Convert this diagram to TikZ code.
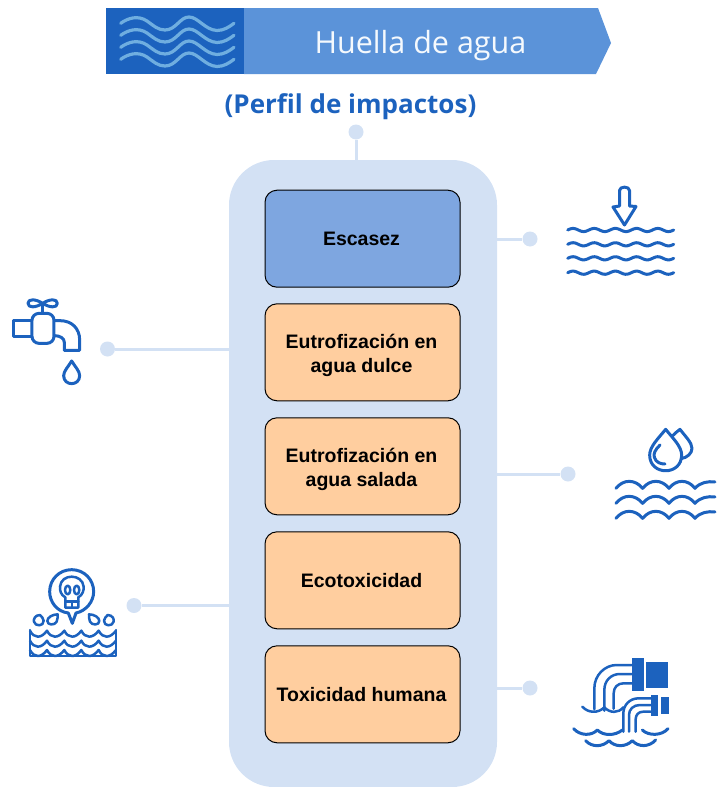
\documentclass[tikz,border=0pt]{standalone}
\usepackage{fontspec}
\setmainfont{Open Sans}
\newfontfamily\boxfont{Liberation Sans}[BoldFont={Liberation Sans Bold}]
\definecolor{dblue}{HTML}{1C62BE}
\definecolor{lblue}{HTML}{5B93D9}
\definecolor{wblue}{HTML}{6FAEE0}
\definecolor{panel}{HTML}{D3E1F4}
\definecolor{bluebox}{HTML}{7EA6E0}
\definecolor{orangebox}{HTML}{FFCE9F}
\tikzset{
  ico/.style={draw=dblue,line width=3pt,line cap=round,line join=round},
  icothin/.style={draw=dblue,line width=2.5pt,line cap=round,line join=round},
  impact/.style={draw=black,line width=1pt,rounded corners=12pt,minimum width=195pt,minimum height=97pt,inner sep=0pt,align=center,font=\boxfont\bfseries\fontsize{19.5}{24}\selectfont},
  dotnode/.style={circle,fill=panel,minimum size=15pt,inner sep=0pt},
  link/.style={draw=panel,line width=3pt}
}
\begin{document}
\begin{tikzpicture}[x=1pt,y=-1pt]
\useasboundingbox (0,0) rectangle (716,787);
% header
\fill[lblue] (244,8) -- (598,8) -- (611,43) -- (596,74) -- (244,74) -- cycle;
\fill[dblue] (106,8) rectangle (244,74);
\foreach \d in {0,12,24,36}{
  \draw[wblue,line width=3.2pt,line cap=round] (120.7,23.3+\d)
    .. controls (128,18+\d) and (138,15+\d) .. (147,21+\d)
    .. controls (154,26+\d) and (158,30+\d) .. (165,30+\d)
    .. controls (176,30+\d) and (180,17+\d) .. (189,17+\d)
    .. controls (198,17+\d) and (205,30+\d) .. (217,30.5+\d)
    .. controls (224,30.5+\d) and (229,27+\d) .. (234,23.3+\d);
}
\node[text=white!94!lblue,font=\fontsize{30.5}{34}\selectfont,anchor=center] (title) at (420.5,46) {Huella de agua};
\node[text=dblue,font=\bfseries\fontsize{26}{30}\selectfont,anchor=center] (subtitle) at (350.5,107) {(Perfil de impactos)};
% panel
\node[fill=panel,rounded corners=45pt,minimum width=268pt,minimum height=627pt,inner sep=0pt] (pan) at (363,473.5) {};
% boxes
\node[impact,fill=bluebox] (b1) at (362.5,238.7) {\hspace*{-2pt}Escasez};
\node[impact,fill=orangebox] (b2) at (362.5,352.3) {\raisebox{-8pt}[0pt][0pt]{\parbox{188pt}{\centering Eutrofización en\\agua dulce}}\hspace*{2pt}};
\node[impact,fill=orangebox] (b3) at (362.5,466.3) {\raisebox{-8pt}[0pt][0pt]{\parbox{188pt}{\centering Eutrofización en\\agua salada}}\hspace*{2pt}};
\node[impact,fill=orangebox] (b4) at (362.5,580.3) {\hspace*{-2pt}Ecotoxicidad};
\node[impact,fill=orangebox] (b5) at (362.5,694.3) {\hspace*{-2pt}Toxicidad humana};
% connector dots
\node[dotnode] (dt) at (356,132) {};
\node[dotnode] (d1) at (530,239) {};
\node[dotnode] (d2) at (107.5,349) {};
\node[dotnode] (d3) at (568,474) {};
\node[dotnode] (d4) at (134,605.5) {};
\node[dotnode] (d5) at (530,688) {};
\draw[link] (dt) -- (dt |- pan.north);
\draw[link] (d1) -- (pan.east |- d1);
\draw[link] (d2) -- (pan.west |- d2);
\draw[link] (d3) -- (pan.east |- d3);
\draw[link] (d4) -- (pan.west |- d4);
\draw[link] (d5) -- (pan.east |- d5);
% tap icon
\begin{scope}[shift={(0,285)},x=0.3333pt,y=-0.3333pt]
  \draw[ico] (95,105) -- (40,105) -- (40,155) -- (95,155);
  \draw[ico,rounded corners=7pt] (96,85) rectangle (162,175);
  \draw[ico] (128,85) -- (128,58);
  \draw[ico] (128,55) .. controls (108,42) and (84,40) .. (84,55) .. controls (84,70) and (108,68) .. (128,55)
     .. controls (148,42) and (172,40) .. (172,55) .. controls (172,70) and (148,68) .. (128,55);
  \draw[ico] (164,107) -- (180,107) .. controls (215,107) and (239,130) .. (239,165) -- (239,196) -- (193,196) -- (193,172) .. controls (193,160) and (180,152) .. (164,152);
  \draw[ico] (215,228) .. controls (205,245) and (191,258) .. (191,272) .. controls (191,304) and (239,304) .. (239,272) .. controls (239,258) and (225,245) .. (215,228) -- cycle;
\end{scope}
% arrow and waves icon
\draw[ico] (619.5,204) -- (619.5,190.5) .. controls (619.5,186) and (629.5,186) .. (629.5,190.5) -- (629.5,206) -- (636,206.5) -- (624.5,225) -- (613,207) -- (619.5,206) -- cycle;
\foreach \yy in {230,244.3,258.3,272.7}{
  \draw[ico] plot[smooth,domain=0:106,samples=60] ({567.7+\x},{\yy-1.6*sin(\x*16.98)});
}
% drops icon
\begin{scope}[shift={(600,420)},x=0.3333pt,y=-0.3333pt]
  \draw[ico] (197,28) .. controls (175,55) and (149,80) .. (149,105) .. controls (149,168) and (245,168) .. (245,105) .. controls (245,80) and (219,55) .. (197,28) -- cycle;
  \draw[ico] (218,47) .. controls (225,40) and (233,33) .. (240,28) .. controls (255,48) and (276,68) .. (276,85) .. controls (276,100) and (262,113) .. (243,116);
  \draw[ico] (180,75) .. controls (165,90) and (160,100) .. (163,112) .. controls (168,128) and (182,132) .. (195,132);
  \foreach \yy in {205,250,295}{
    \draw[ico] (48,\yy) .. controls (70,\yy-28) and (105,\yy-28) .. (128,\yy)
       .. controls (150,\yy-28) and (185,\yy-28) .. (207,\yy)
       .. controls (229,\yy-28) and (263,\yy-28) .. (285,\yy)
       .. controls (300,\yy-18) and (325,\yy-22) .. (345,\yy-19);
  }
\end{scope}
% skull icon
\begin{scope}[shift={(20,560)},x=0.3333pt,y=-0.3333pt]
  \draw[ico] (145,159) .. controls (110,155) and (89,125) .. (89,95) .. controls (89,58) and (118,29) .. (155,29) .. controls (192,29) and (221,58) .. (221,95) .. controls (221,125) and (198,153) .. (168,159) -- (157,190) -- cycle;
  \draw[icothin] (136,112) .. controls (122,105) and (119,90) .. (120,80) .. controls (122,60) and (138,50) .. (155,50) .. controls (172,50) and (189,60) .. (191,80) .. controls (192,90) and (188,105) .. (175,112) -- (175,143) -- (136,143) -- cycle;
  \draw[icothin] (143,90) ellipse (8 and 13);
  \draw[icothin] (170,90) ellipse (8 and 13);
  \draw[icothin] (136,125) -- (175,125);
  \draw[icothin] (155.5,125) -- (155.5,143);
  \draw[icothin] (60,165) .. controls (45,165) and (40,178) .. (42,185) .. controls (45,200) and (72,200) .. (71,182) .. controls (70,175) and (65,170) .. (60,165) -- cycle;
  \draw[icothin] (113,163) .. controls (98,163) and (82,172) .. (82,183) .. controls (82,196) and (104,197) .. (110,185) .. controls (113,178) and (113,170) .. (113,163) -- cycle;
  \draw[icothin] (207,163) .. controls (222,163) and (238,172) .. (238,183) .. controls (238,196) and (216,197) .. (210,185) .. controls (207,178) and (207,170) .. (207,163) -- cycle;
  \draw[icothin] (263,165) .. controls (278,165) and (283,178) .. (281,185) .. controls (278,200) and (251,200) .. (252,182) .. controls (253,175) and (258,170) .. (263,165) -- cycle;
  \draw[icothin] (30,210) -- (30,288) -- (288,288) -- (288,210);
  \foreach \yy in {212,242,270}{
    \draw[icothin] (30,\yy) .. controls (42,\yy+24) and (64,\yy+24) .. (81,\yy)
      .. controls (93,\yy+24) and (115,\yy+24) .. (133,\yy)
      .. controls (145,\yy+24) and (167,\yy+24) .. (184,\yy)
      .. controls (196,\yy+24) and (218,\yy+24) .. (236,\yy)
      .. controls (248,\yy+24) and (270,\yy+24) .. (288,\yy);
  }
\end{scope}
% pipes icon
\begin{scope}[shift={(565,650)},x=0.3333pt,y=-0.3333pt]
  \fill[dblue] (202,25) rectangle (237,122);
  \fill[dblue] (243,37) rectangle (309,113);
  \fill[dblue] (259,135) rectangle (279,197);
  \fill[dblue] (289,141) rectangle (313,191);
  \draw[icothin] (88,178) -- (88,115) .. controls (88,75) and (120,45) .. (155,45) -- (200,45);
  \draw[icothin] (118,182) -- (118,120) .. controls (118,92) and (138,72) .. (165,72) -- (200,72);
  \draw[icothin] (146,176) -- (146,130) .. controls (146,112) and (158,100) .. (175,100) -- (200,100);
  \draw[icothin] (52,170) .. controls (70,190) and (100,190) .. (118,172) .. controls (135,190) and (160,190) .. (175,172);
  \draw[icothin] (175,245) -- (175,190) .. controls (175,165) and (195,145) .. (220,145) -- (257,145);
  \draw[icothin] (192,245) -- (192,195) .. controls (192,178) and (205,165) .. (225,165) -- (257,165);
  \draw[icothin] (212,245) -- (212,208) .. controls (212,195) and (220,185) .. (235,185) -- (257,185);
  \draw[ico] (26,236) .. controls (45,258) and (80,258) .. (97,240) .. controls (115,258) and (150,258) .. (172,240);
  \draw[ico] (232,240) .. controls (250,258) and (290,258) .. (309,236);
  \draw[ico] (62,272) .. controls (80,292) and (112,292) .. (132,272) .. controls (150,292) and (182,292) .. (202,272) .. controls (220,292) and (252,292) .. (272,270);
\end{scope}
\end{tikzpicture}
\end{document}
